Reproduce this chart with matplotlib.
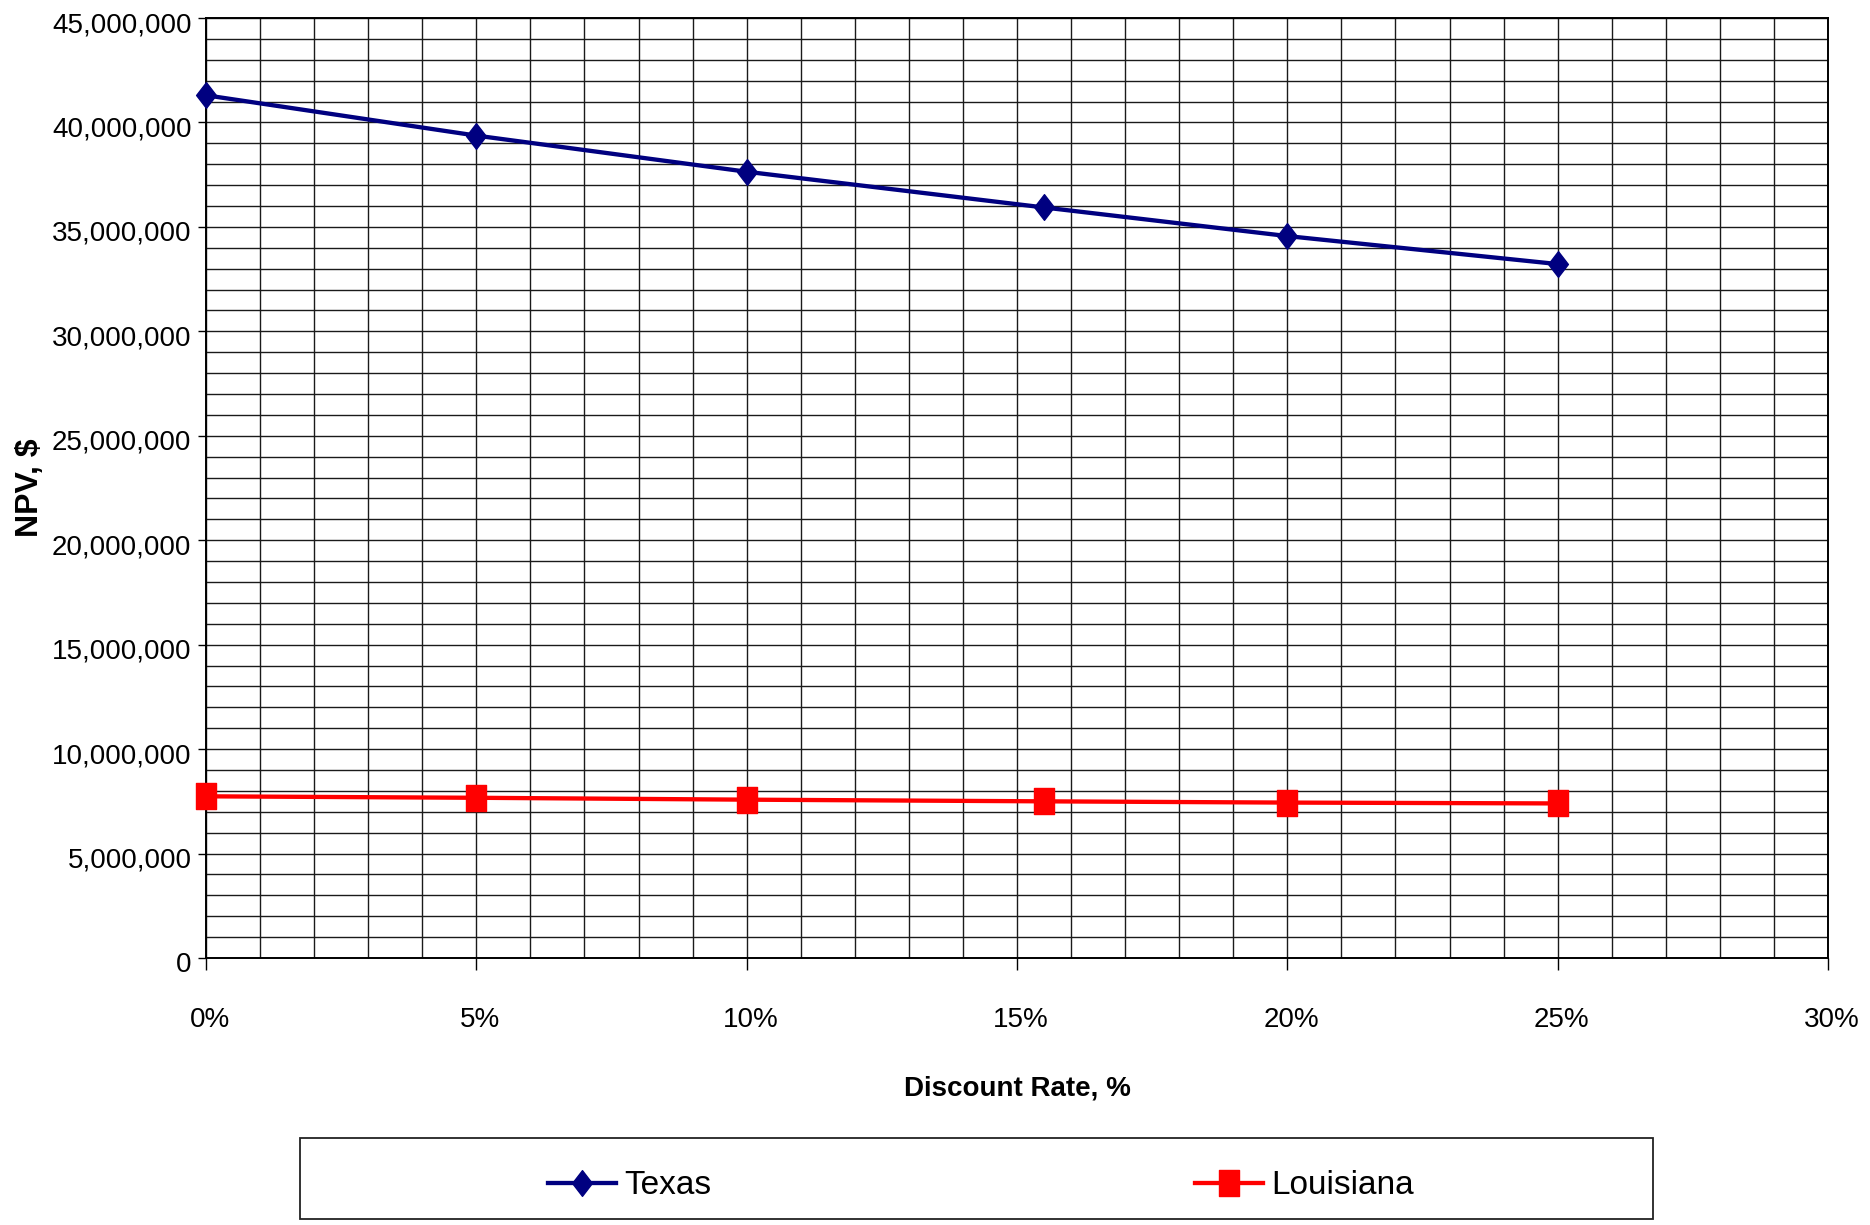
import matplotlib
matplotlib.use("Agg")
import matplotlib.pyplot as plt
from matplotlib.path import Path
from matplotlib.patches import Rectangle
from matplotlib.ticker import MultipleLocator, FuncFormatter
from matplotlib.transforms import ScaledTranslation
import numpy as np

# ---- data ----
discount_rate = [0, 5, 10, 15.5, 20, 25]
texas_npv = [41.30e6, 39.37e6, 37.64e6, 35.93e6, 34.56e6, 33.22e6]
louisiana_npv = [7.74e6, 7.67e6, 7.58e6, 7.50e6, 7.44e6, 7.40e6]
series_names = ["Texas", "Louisiana"]
x_label = "Discount Rate, %"
y_label = "NPV, $"

plt.rcParams['font.family'] = ['Liberation Sans', 'DejaVu Sans']

fig = plt.figure(figsize=(18.7, 12.25), dpi=100)
ax = fig.add_axes([206/1870, 1 - 958/1225, (1828-206)/1870, (958-18)/1225])

# custom markers (slightly taller than wide, like the reference)
w = 0.77
diamond = Path([(0, 1), (w, 0), (0, -1), (-w, 0), (0, 1)],
               [Path.MOVETO, Path.LINETO, Path.LINETO, Path.LINETO, Path.CLOSEPOLY])
square = Path([(-w, -1), (w, -1), (w, 1), (-w, 1), (-w, -1)],
              [Path.MOVETO, Path.LINETO, Path.LINETO, Path.LINETO, Path.CLOSEPOLY])

ax.plot(discount_rate, texas_npv, color='#000080', lw=3.1, marker=diamond,
        markersize=18.5, markerfacecolor='#000080', markeredgecolor='#000080',
        label=series_names[0], zorder=5, clip_on=False)
ax.plot(discount_rate, louisiana_npv, color='#FF0000', lw=3.1, marker=square,
        markersize=18.5, markerfacecolor='#FF0000', markeredgecolor='#FF0000',
        label=series_names[1], zorder=5, clip_on=False)

ax.set_xlim(0, 30)
ax.set_ylim(0, 45e6)
ax.xaxis.set_major_locator(MultipleLocator(5))
ax.xaxis.set_minor_locator(MultipleLocator(1))
ax.yaxis.set_major_locator(MultipleLocator(5e6))
ax.yaxis.set_minor_locator(MultipleLocator(1e6))
ax.xaxis.set_major_formatter(FuncFormatter(lambda v, p: f"{int(round(v))}%"))
ax.yaxis.set_major_formatter(FuncFormatter(lambda v, p: f"{int(round(v)):,}"))

ax.grid(True, which='both', color='#1a1a1a', lw=1.0)
ax.set_axisbelow(True)
for s in ax.spines.values():
    s.set_color('black')
    s.set_linewidth(1.4)

ax.tick_params(axis='x', which='major', direction='out', length=8.5, width=1.0,
               pad=27, labelsize=20, colors='black')
ax.tick_params(axis='y', which='major', direction='out', length=5.5, width=1.0,
               pad=5, labelsize=20, colors='black')
ax.tick_params(which='minor', length=0)

# small offsets like the reference
xoff = ScaledTranslation(4/100, 0, fig.dpi_scale_trans)
for lbl in ax.get_xticklabels():
    lbl.set_transform(lbl.get_transform() + xoff)
yoff = ScaledTranslation(0, -4/100, fig.dpi_scale_trans)
for lbl in ax.get_yticklabels():
    lbl.set_transform(lbl.get_transform() + yoff)

ax.set_xlabel(x_label, fontsize=20, fontweight='bold')
ax.set_ylabel(y_label, fontsize=23, fontweight='bold')
ax.xaxis.label.set_va('center')
ax.yaxis.label.set_va('center')
ax.xaxis.set_label_coords(0.5, -(1088-958)/940, transform=ax.transAxes)
ax.yaxis.set_label_coords((30-206)/1622, 0.5, transform=ax.transAxes)

# legend box
fig.patches.append(Rectangle((300/1870, 1 - 1219/1225), (1653-300)/1870, (1219-1138)/1225,
                             transform=fig.transFigure, facecolor='white',
                             edgecolor='#222222', lw=1.3, zorder=0))
leg = fig.legend(loc='center', bbox_to_anchor=(981/1870, 1 - 1186/1225), ncol=2,
                 frameon=False, fontsize=24, handlelength=2.04, handletextpad=0.25,
                 columnspacing=14.5)
for h in leg.legend_handles:
    h.set_markersize(18.5)

fig.savefig("out.png", dpi=100)
